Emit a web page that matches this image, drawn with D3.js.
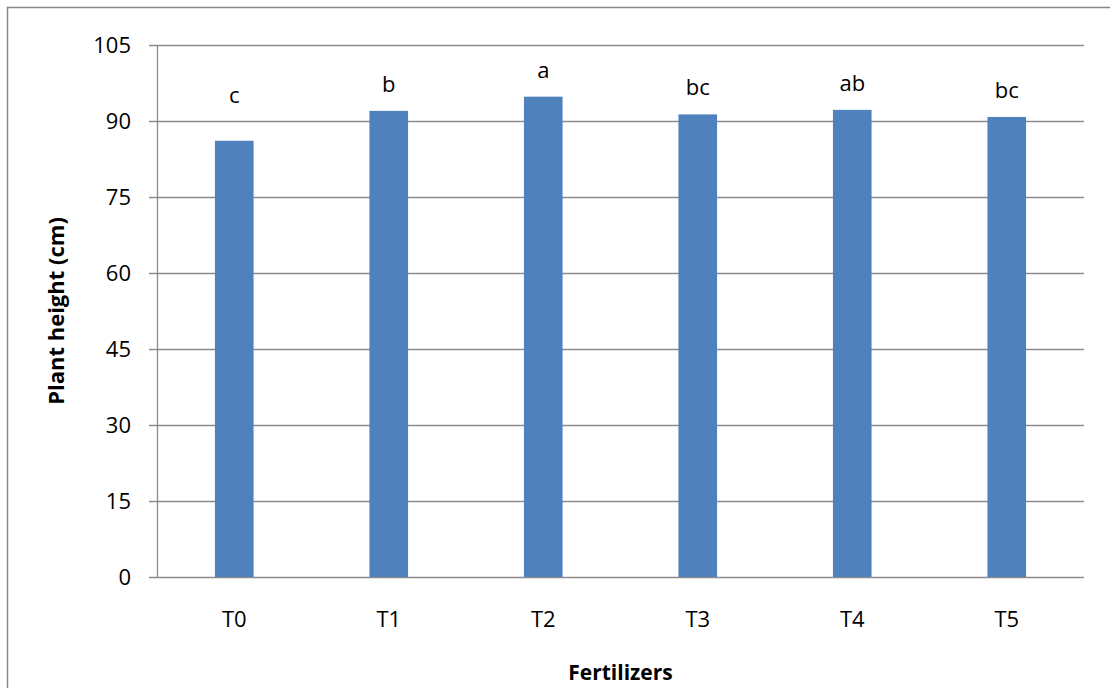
<!DOCTYPE html>
<html><head><meta charset="utf-8">
<script src="https://cdn.jsdelivr.net/npm/d3@7"></script>
<style>body{margin:0;background:#fff;}svg{display:block;}text{font-family:"Open Sans",sans-serif;fill:#000;}</style>
</head><body>
<svg id="chart" width="1110" height="688"></svg>
<script>
const categories = ["T0","T1","T2","T3","T4","T5"];
const heights = [86.1, 92.0, 94.8, 91.3, 92.2, 90.8];
const letters = ["c","b","a","bc","ab","bc"];
const letterLevels = [93.6, 95.7, 98.5, 95.1, 96.0, 94.6];
const yTicks = [0,15,30,45,60,75,90,105];

const svg = d3.select("#chart");
const m = {left:157, right:1084, top:45, bottom:577};
svg.append("rect").attr("x",7.5).attr("y",7.5).attr("width",1200).attr("height",800)
  .attr("fill","none").attr("stroke","#888").attr("stroke-width",1.5);

const x = d3.scaleBand().domain(categories).range([m.left,m.right]).paddingInner(0.75).paddingOuter(0.375);
const y = d3.scaleLinear().domain([0,105]).range([m.bottom,m.top]);

svg.append("g").selectAll("line").data(yTicks).join("line")
  .attr("x1",149).attr("x2",m.right)
  .attr("y1",d=>Math.round(y(d))+0.5).attr("y2",d=>Math.round(y(d))+0.5)
  .attr("stroke","#8c8c8c").attr("stroke-width",1.3);
svg.append("line").attr("x1",m.left+0.5).attr("x2",m.left+0.5).attr("y1",m.top).attr("y2",m.bottom)
  .attr("stroke","#8c8c8c").attr("stroke-width",1.3);

svg.append("g").selectAll("text").data(yTicks).join("text")
  .attr("x",131).attr("y",d=>y(d)).attr("dy","0.36em").attr("text-anchor","end")
  .attr("font-size",22).text(d=>d);

svg.append("g").selectAll("rect").data(categories).join("rect")
  .attr("x",d=>x(d)).attr("width",x.bandwidth())
  .attr("y",(d,i)=>y(heights[i])).attr("height",(d,i)=>y(0)-y(heights[i]))
  .attr("fill","#4f81bd");

svg.append("g").selectAll("text").data(categories).join("text")
  .attr("x",d=>x(d)+x.bandwidth()/2).attr("y",(d,i)=>y(letterLevels[i]))
  .attr("text-anchor","middle").attr("font-size",22).text((d,i)=>letters[i]);

svg.append("g").selectAll("text").data(categories).join("text")
  .attr("x",d=>x(d)+x.bandwidth()/2).attr("y",627)
  .attr("text-anchor","middle").attr("font-size",22).text(d=>d);

svg.append("text").attr("x",(m.left+m.right)/2).attr("y",680).attr("text-anchor","middle")
  .attr("font-size",21).attr("font-weight","bold").text("Fertilizers");
svg.append("text").attr("transform","translate(64,"+((m.top+m.bottom)/2)+") rotate(-90)")
  .attr("text-anchor","middle").attr("font-size",22).attr("font-weight","bold").text("Plant height (cm)");
</script>
</body></html>
